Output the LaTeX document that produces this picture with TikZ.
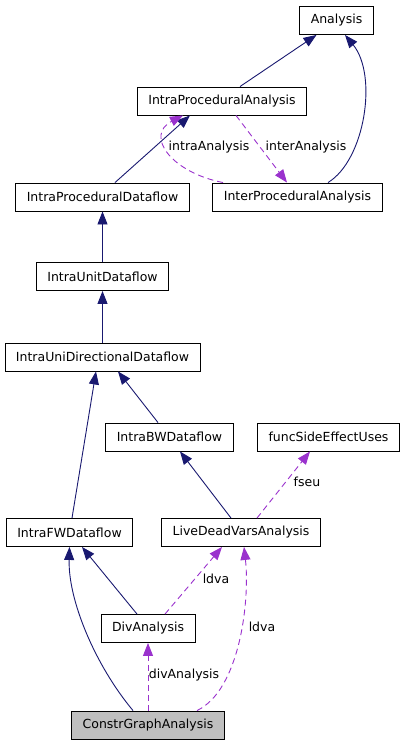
\documentclass[tikz,border=0pt]{standalone}
\usepackage{fontspec}
\setmainfont{DejaVu Sans}
\usetikzlibrary{arrows.meta}
\definecolor{inhcol}{HTML}{191970}
\definecolor{usecol}{HTML}{9A32CD}
\tikzset{
  cls/.style    ={draw, fill=white, minimum height=28pt, inner xsep=11pt,
                  inner ysep=0pt, line width=0.9pt,
                  font=\fontsize{12.5}{14}\selectfont},
  curcls/.style ={cls, fill=black!25},
  inh/.style    ={-{Triangle[length=13pt,width=10pt]}, line width=0.9pt,
                  inhcol},
  usg/.style    ={-{Triangle[length=13pt,width=10pt]}, line width=0.9pt,
                  usecol, dash pattern=on 6pt off 4pt},
  elbl/.style   ={font=\fontsize{12.5}{14}\selectfont, inner sep=1pt},
}
\begin{document}
\begin{tikzpicture}[x=1pt,y=-1pt]
  \useasboundingbox (0,0) rectangle (408,744);
  % classes
  \node[cls] (ana)   at (336.5,20.5) {Analysis};
  \node[cls] (ipa)   at (222,101)    {IntraProceduralAnalysis};
  \node[cls] (ipd)   at (102.5,197)  {IntraProceduralDataflow};
  \node[cls] (inter) at (297.5,197)  {InterProceduralAnalysis};
  \node[cls] (iud)   at (102.5,276.5) {IntraUnitDataflow};
  \node[cls] (iudd)  at (102.5,357)  {IntraUniDirectionalDataflow};
  \node[cls] (ibw)   at (169.5,437)  {IntraBWDataflow};
  \node[cls] (fseu)  at (328.5,437)  {funcSideEffectUses};
  \node[cls] (ifw)   at (69.5,532.5) {IntraFWDataflow};
  \node[cls] (ldva)  at (241,532.5)  {LiveDeadVarsAnalysis};
  \node[cls] (div)   at (148,628.5)  {DivAnalysis};
  \node[curcls] (cga) at (148,725)   {ConstrGraphAnalysis};
  % inheritance
  \draw[inh] ([xshift=18pt]ipa.north) -- ([xshift=-20pt]ana.south);
  \draw[inh] ([xshift=30.5pt]inter.north)
    .. controls (365,160) and (378,75) .. ([xshift=8.5pt]ana.south);
  \draw[inh] ([xshift=12.5pt]ipd.north) -- ([xshift=-32pt]ipa.south);
  \draw[inh] (iud.north) -- (ipd.south);
  \draw[inh] (iudd.north) -- (iud.south);
  \draw[inh] ([xshift=-11.5pt]ibw.north) -- ([xshift=15.5pt]iudd.south);
  \draw[inh] ([xshift=2.5pt]ifw.north) -- ([xshift=-6.5pt]iudd.south);
  \draw[inh] ([xshift=-10pt]ldva.north) -- ([xshift=10.5pt]ibw.south);
  \draw[inh] ([xshift=-11pt]div.north) -- ([xshift=12.5pt]ifw.south);
  \draw[inh] ([xshift=-15pt]cga.north)
    .. controls (95,665) and (68,600) .. (ifw.south);
  % usage
  \draw[usg] ([xshift=-74.5pt]inter.north)
    .. controls (170,172) and (145,135) .. ([xshift=-39pt]ipa.south);
  \node[elbl] (lintra) at (209,147) {intraAnalysis};
  \draw[usg] ([xshift=14pt]ipa.south) -- ([xshift=-10.5pt]inter.north);
  \node[elbl] (linter) at (306,147) {interAnalysis};
  \draw[usg] ([xshift=16pt]ldva.north) -- ([xshift=-18.5pt]fseu.south);
  \node[elbl] (lfseu) at (307,482) {fseu};
  \draw[usg] ([xshift=17pt]div.north) -- ([xshift=-19pt]ldva.south);
  \node[elbl] (lldvaa) at (216,579) {ldva};
  \draw[usg] ([xshift=49pt]cga.north)
    .. controls (240,690) and (250,600) .. ([xshift=3pt]ldva.south);
  \node[elbl] (lldvab) at (262,627) {ldva};
  \draw[usg] (cga.north) -- (div.south);
  \node[elbl] (ldiv) at (184,675) {divAnalysis};
\end{tikzpicture}
\end{document}
